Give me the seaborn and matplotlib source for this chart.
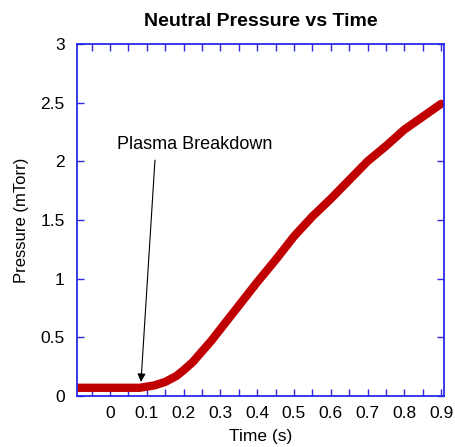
import matplotlib
matplotlib.use("Agg")
import matplotlib.pyplot as plt
import seaborn as sns
import pandas as pd
from matplotlib.ticker import MultipleLocator

time_s = [-0.09, -0.05, 0.0, 0.04, 0.08, 0.10, 0.12, 0.15, 0.18, 0.20, 0.225, 0.25, 0.275,
          0.30, 0.35, 0.40, 0.45, 0.50, 0.55, 0.60, 0.65, 0.70, 0.75, 0.80, 0.85, 0.90]
pressure = [0.07, 0.07, 0.07, 0.07, 0.07, 0.08, 0.09, 0.12, 0.17, 0.22, 0.29, 0.38, 0.47,
            0.57, 0.77, 0.97, 1.16, 1.36, 1.53, 1.68, 1.84, 2.00, 2.13, 2.27, 2.38, 2.49]

title = "Neutral Pressure vs Time"
xlabel = "Time (s)"
ylabel = "Pressure (mTorr)"
annot_text = "Plasma Breakdown"

sns.set_theme(style="white")
plt.rcParams['font.family'] = ['Liberation Sans', 'DejaVu Sans']
plt.rcParams['text.color'] = 'black'
plt.rcParams['axes.labelcolor'] = 'black'

df = pd.DataFrame({"t": time_s, "p": pressure})

fig = plt.figure(figsize=(4.55, 4.47), dpi=100)
ax = fig.add_axes([77/455, 1-396/447, (444-77)/455, (396-44)/447])
sns.lineplot(data=df, x="t", y="p", ax=ax, color="#c00000", linewidth=6)

ax.set_xlim(-0.09, 0.908)
ax.set_ylim(0, 3)
ax.xaxis.set_minor_locator(MultipleLocator(0.05))
ax.set_xticks([0, 0.1, 0.2, 0.3, 0.4, 0.5, 0.6, 0.7, 0.8, 0.9])
ax.set_xticklabels(["0", "0.1", "0.2", "0.3", "0.4", "0.5", "0.6", "0.7", "0.8", "0.9"])
ax.set_yticks([0, 0.5, 1, 1.5, 2, 2.5, 3])
ax.set_yticklabels(["0", "0.5", "1", "1.5", "2", "2.5", "3"])

blue = "#2a2ae8"
for s in ax.spines.values():
    s.set_color(blue)
    s.set_linewidth(1.3)
ax.tick_params(which="both", direction="in", colors=blue, labelcolor="black",
               top=True, right=True, bottom=True, left=True, labelsize=12.5)
ax.tick_params(axis="x", pad=7)
ax.tick_params(axis="y", pad=9)
ax.tick_params(which="major", length=5, width=1)
ax.tick_params(which="minor", length=5, width=1)
ax.yaxis.set_tick_params(which="minor", left=False, right=False)

ax.set_title(title, fontsize=14, fontweight="bold", pad=13, color="black")
ax.set_xlabel(xlabel, fontsize=12.5, labelpad=6)
ax.set_ylabel(ylabel, fontsize=12, labelpad=8)
ax.grid(False)

ax.text(0.231, 2.14, annot_text, ha="center", va="center", fontsize=13, color="black")
ax.annotate("", xy=(0.084, 0.12), xytext=(0.122, 2.01),
            arrowprops=dict(arrowstyle="-|>", color="black", lw=0.8,
                            shrinkA=0, shrinkB=0, mutation_scale=12))

fig.savefig("out.png", dpi=100)
